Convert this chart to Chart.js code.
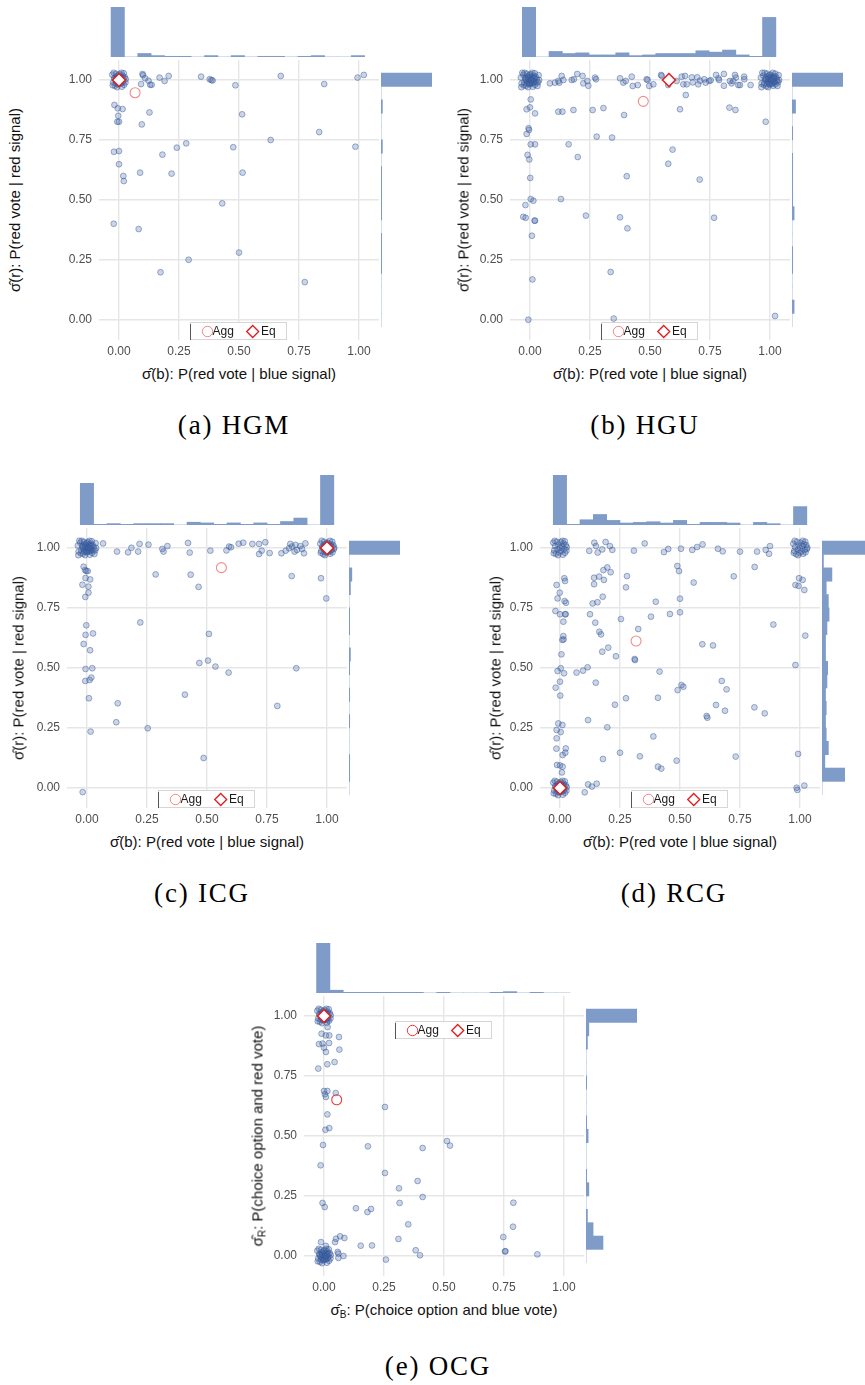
<!DOCTYPE html>
<html><head><meta charset="utf-8">
<script src="https://cdn.jsdelivr.net/npm/chart.js@4"></script>
<style>
html,body{margin:0;padding:0;background:#fff;}
#page{position:relative;width:865px;height:1385px;overflow:hidden;background:#fff;}
canvas{position:absolute;}
.xt{position:absolute;font:15px "Liberation Sans",Arial,sans-serif;color:#111;white-space:nowrap;transform:translate(-50%,-50%);}
.yt{position:absolute;font:15px "Liberation Sans",Arial,sans-serif;color:#111;white-space:nowrap;transform:translate(-50%,-50%) rotate(-90deg);}
.cap{position:absolute;font:27px "Liberation Serif","DejaVu Serif",serif;letter-spacing:1.8px;line-height:27px;color:#000;white-space:nowrap;transform:translate(-50%,0);}
sub{font-size:10px;vertical-align:-3px;line-height:0;}
</style></head>
<body><div id="page"></div>
<script>
// ---------- DATA ----------
const tickValues = [0, 0.25, 0.5, 0.75, 1];
const binWidth = 0.0556;

// dense clusters of overlapping points
const clusterHigh0 = [[-0.028,1.022],[-0.024,0.99],[-0.02,1.008],[-0.017,0.976],[-0.013,1.026],[-0.01,0.995],[-0.006,1.012],[-0.003,0.982],[0,1],[0.003,1.024],[0.006,0.988],[0.009,1.006],[0.012,0.972],[0.015,1.018],[0.018,0.996],[0.021,0.98],[0.024,1.012],[0.027,0.99],[-0.022,1.03],[0.01,1.03],[-0.008,0.97],[0.02,1.028],[-0.026,0.978],[0.028,1.004]];
const clusterHigh1 = [[0.972,1.018],[0.976,0.988],[0.98,1.004],[0.984,0.974],[0.988,1.026],[0.991,0.994],[0.995,1.01],[0.998,0.98],[1,1],[1.003,1.022],[1.006,0.986],[1.01,1.008],[1.013,0.976],[1.016,1.016],[1.02,0.992],[1.023,0.982],[1.026,1.012],[1.029,0.996],[0.978,1.03],[1.012,1.03],[0.992,0.97],[1.022,1.026],[0.974,0.98],[1.03,1.002]];
const clusterLow0 = [[-0.028,0.022],[-0.024,-0.01],[-0.02,0.008],[-0.017,-0.024],[-0.013,0.026],[-0.01,-0.005],[-0.006,0.012],[-0.003,-0.018],[0,0],[0.003,0.024],[0.006,-0.012],[0.009,0.006],[0.012,-0.028],[0.015,0.018],[0.018,-0.004],[0.021,-0.02],[0.024,0.012],[0.027,-0.01],[-0.022,0.03],[0.01,0.03],[-0.008,-0.03],[0.02,0.028],[-0.026,-0.022],[0.028,0.004]];
const clusterWide0 = [[-0.038,1.01],[-0.035,0.985],[0.034,0.99],[0.036,1.02],[-0.032,1.03],[0.031,0.975],[-0.036,0.97],[0.038,1.0]];
const clusterWide1 = [[0.962,1.01],[0.965,0.985],[1.034,0.99],[1.036,1.02],[0.968,1.03],[1.031,0.975],[0.964,0.97],[1.038,1.0]];
const coreHigh0 = [[-0.015,1.0],[-0.01,1.015],[-0.005,0.99],[0.0,1.01],[0.005,0.995],[0.01,1.012],[0.015,0.99],[-0.012,0.985],[0.008,0.985],[-0.002,1.02],[0.018,1.008],[-0.018,1.005],[0.0,0.985],[0.012,1.0],[-0.008,1.005],[0.004,1.0]];
const coreHigh1 = [[0.985,1.0],[0.99,1.015],[0.995,0.99],[1.0,1.01],[1.005,0.995],[1.01,1.012],[1.015,0.99],[0.988,0.985],[1.008,0.985],[0.998,1.02],[1.018,1.008],[0.982,1.005],[1.0,0.985],[1.012,1.0],[0.992,1.005],[1.004,1.0]];
const coreLow0 = [[-0.015,0.0],[-0.01,0.015],[-0.005,-0.01],[0.0,0.01],[0.005,-0.005],[0.01,0.012],[0.015,-0.01],[-0.012,-0.015],[0.008,-0.015],[-0.002,0.02],[0.018,0.008],[-0.018,0.005],[0.0,-0.015],[0.012,0.0],[-0.008,0.005],[0.004,0.0]];

// (a) HGM
const hgmPoints = [[0.098,1.025],[0.10,1.02],[0.109,1.007],[0.123,0.997],[0.13,0.98],[0.136,0.98],[0.092,0.983],[0.169,1.01],[0.19,0.996],[0.207,1.017],[0.342,1.014],[0.378,1.003],[0.385,1.0],[0.39,0.998],[0.485,0.978],[0.674,1.017],[0.855,0.983],[0.994,1.01],[1.02,1.021],[-0.019,0.896],[-0.005,0.882],[0.015,0.879],[-0.003,0.851],[-0.007,0.826],[0.0,0.826],[0.127,0.865],[0.095,0.815],[0.513,0.857],[0.834,0.783],[0.632,0.75],[0.28,0.736],[0.241,0.718],[0.476,0.72],[0.985,0.722],[-0.021,0.701],[0.0,0.704],[0.0,0.649],[0.181,0.689],[0.018,0.6],[0.02,0.579],[0.088,0.614],[0.219,0.61],[0.515,0.614],[0.43,0.486],[-0.022,0.401],[0.082,0.379],[0.5,0.281],[0.29,0.251],[0.173,0.199],[0.774,0.158]];
const hgmAgg = [[0.067,0.947]];
const hgmEq = [[0,1]];
const hgmTopHist = [71,0,5,2,1,1,0,2,0,2,0,1,1,0,1,2,0,0,2];
const hgmRightHist = [0,0,0,0,1,1,1,0,1,1,1,1,0,2,0,0,2,0,73];

// (b) HGU
const hguPoints = [[0.083,0.986],[0.104,0.989],[0.118,0.996],[0.122,0.989],[0.132,1.017],[0.139,1.0],[0.174,1.0],[0.183,1.003],[0.197,1.025],[0.219,1.017],[0.222,0.986],[0.239,0.996],[0.243,0.976],[0.271,1.01],[0.275,1.003],[0.375,1.007],[0.389,0.989],[0.399,0.996],[0.424,1.014],[0.428,0.975],[0.449,0.979],[0.486,1.003],[0.49,1.0],[0.497,0.975],[0.514,0.982],[0.546,1.021],[0.549,1.017],[0.576,0.979],[0.611,0.996],[0.632,1.014],[0.639,0.982],[0.646,1.017],[0.653,0.982],[0.674,1.011],[0.678,0.99],[0.697,1.011],[0.701,0.982],[0.708,0.997],[0.726,1.003],[0.732,0.989],[0.747,0.996],[0.753,0.999],[0.775,1.021],[0.785,1.007],[0.788,1.0],[0.808,1.025],[0.808,0.976],[0.833,0.996],[0.84,0.986],[0.847,0.996],[0.854,1.021],[0.858,1.01],[0.868,0.979],[0.875,0.979],[0.892,1.014],[0.893,1.003],[0.919,0.979],
 [0.003,0.919],[-0.014,0.878],[0.0,0.886],[0.021,0.861],[0.118,0.868],[0.135,0.868],[0.181,0.875],[0.261,0.875],[0.306,0.883],[0.392,0.854],[0.649,0.9375],[0.625,0.878],[0.831,0.885],[0.856,0.875],[0.982,0.826],[-0.006,0.799],[-0.004,0.792],[-0.014,0.775],[0.003,0.732],[0.021,0.732],[0.161,0.732],[0.278,0.764],[0.342,0.76],[-0.01,0.688],[-0.003,0.669],[0.199,0.679],[0.594,0.71],[0.576,0.651],[0.001,0.592],[0.403,0.599],[0.707,0.585],[0.003,0.504],[0.014,0.497],[0.129,0.504],[-0.019,0.479],[-0.028,0.43],[-0.018,0.426],[0.019,0.414],[0.021,0.414],[0.233,0.435],[0.375,0.428],[0.406,0.382],[0.767,0.426],[0.008,0.351],[0.336,0.2],[0.01,0.169],[-0.007,0.001],[0.349,0.006],[1.021,0.017]];
const hguAgg = [[0.472,0.911]];
const hguEq = [[0.579,1.0]];
const hguTopHist = [72,0,8,5,6,3,3,6,2,3,5,5,5,9,7,10,3,1,57];
const hguRightHist = [0,3,0,0,1,1,0,0,3,1,1,1,1,0,1,0,5,0,72];

// (c) ICG
const icgPoints = [[0.067,1.019],[0.125,0.985],[0.171,0.982],[0.185,1.001],[0.213,0.985],[0.219,1.017],[0.256,1.014],[0.314,0.996],[0.319,0.985],[0.335,1.008],[0.421,1.021],[0.428,0.981],[0.514,0.989],[0.581,0.99],[0.592,1.006],[0.6,1.003],[0.632,1.018],[0.651,1.022],[0.689,1.017],[0.717,1.017],[0.717,0.975],[0.728,0.989],[0.743,1.024],[0.761,0.979],[0.81,0.978],[0.828,0.989],[0.842,0.999],[0.847,1.017],[0.854,1.006],[0.865,0.985],[0.869,1.013],[0.875,0.992],[0.889,1.008],[0.896,0.996],[0.904,0.978],[0.91,1.019],
 [-0.014,0.922],[-0.008,0.908],[-0.003,0.904],[0.003,0.904],[-0.006,0.875],[0.013,0.869],[-0.019,0.847],[0.006,0.839],[0.006,0.814],[-0.007,0.796],[0.286,0.89],[0.432,0.889],[0.465,0.838],[0.853,0.883],[0.975,0.874],[0.997,0.79],[-0.003,0.678],[-0.006,0.638],[0.025,0.644],[-0.014,0.6],[0.013,0.574],[0.222,0.69],[0.508,0.642],[0.468,0.521],[0.504,0.531],[0.535,0.506],[0.872,0.499],[-0.006,0.496],[0.022,0.499],[0.011,0.45],[-0.007,0.446],[0.018,0.46],[0.008,0.374],[0.128,0.353],[0.122,0.274],[0.015,0.235],[0.253,0.249],[0.408,0.389],[0.486,0.125],[0.59,0.481],[0.793,0.342],[-0.018,-0.017]];
const icgAgg = [[0.56,0.918]];
const icgEq = [[1,1]];
const icgTopHist = [60,1,2,1,2,2,2,0,4,3,1,3,1,3,1,5,10,0,72];
const icgRightHist = [0,1,1,0,0,1,0,1,0,1,2,0,1,1,0,2,4,0,72];

// (d) RCG
const rcgPoints = [[0.122,0.988],[0.143,1.022],[0.15,1.008],[0.157,0.981],[0.176,0.994],[0.19,1.025],[0.208,1.008],[0.218,0.992],[0.308,0.989],[0.353,1.019],[0.433,0.983],[0.451,0.996],[0.504,0.997],[0.551,0.992],[0.571,1.004],[0.594,1.015],[0.658,0.997],[0.678,0.986],[0.75,0.985],[0.821,0.985],[0.857,0.992],[0.871,0.976],[0.875,1.008],
 [-0.014,0.846],[-0.001,0.814],[-0.01,0.79],[-0.019,0.7375],[0.0,0.724],[0.021,0.724],[0.024,0.724],[0.014,0.693],[0.018,0.874],[0.021,0.8625],[0.025,0.772],[0.019,0.779],[0.014,0.633],[0.01,0.617],[0.015,0.619],[0.006,0.557],[0.142,0.876],[0.163,0.881],[0.142,0.849],[0.181,0.908],[0.197,0.919],[0.211,0.899],[0.183,0.867],[0.136,0.769],[0.156,0.774],[0.178,0.797],[0.125,0.724],[0.147,0.689],[0.164,0.651],[0.171,0.64],[0.176,0.568],[0.201,0.585],[0.233,0.549],[0.254,0.704],[0.275,0.836],[0.279,0.883],[0.311,0.5375],[0.326,0.6625],[0.379,0.714],[0.399,0.776],[0.458,0.725],[0.489,0.925],[0.496,0.904],[0.5,0.789],[0.5,0.732],[0.557,0.856],[0.593,0.599],[0.6375,0.594],[0.724,0.882],[0.811,0.921],[0.889,0.681],[0.981,0.846],[0.994,0.842],[1.011,0.867],[0.996,0.874],[1.018,0.825],[1.022,0.635],[0.981,0.5125],
 [-0.01,0.4875],[0.003,0.499],[0.017,0.478],[0.069,0.481],[0.096,0.489],[0.115,0.503],[-0.018,0.418],[0.0,0.443],[0.001,0.385],[0.149,0.439],[0.3125,0.533],[0.415,0.485],[-0.007,0.269],[0.01,0.2625],[-0.014,0.242],[0.003,0.233],[-0.014,0.207],[-0.015,0.164],[0.024,0.165],[0.022,0.147],[0.011,0.1375],[-0.0125,0.096],[0.0,0.094],[0.011,0.089],[0.008,0.065],[0.117,0.283],[0.197,0.253],[0.229,0.347],[0.275,0.374],[0.179,0.121],[0.25,0.147],[0.333,0.132],[0.389,0.215],[0.408,0.376],[0.408,0.089],[0.422,0.081],[0.486,0.114],[0.49,0.408],[0.506,0.429],[0.514,0.422],[0.611,0.3],[0.614,0.293],[0.65,0.346],[0.674,0.446],[0.694,0.411],[0.6875,0.322],[0.732,0.131],[0.81,0.336],[0.853,0.311],[0.992,0.142],[0.986,0.001],[0.989,-0.008],[1.018,0.01],[0.103,-0.018],[0.117,0.015],[0.133,0.006],[0.153,0.018]];
const rcgAgg = [[0.317,0.6125]];
const rcgEq = [[0,0]];
const rcgTopHist = [76,1,8,16,7,3,4,5,3,7,1,4,4,3,0,4,2,0,28];
const rcgRightHist = [0,32,4,9,6,5,6,5,7,8,5,5,7,10,9,6,14,2,72];

// (e) OCG
const ocgPoints = [[0.014,0.982],[0.015,0.954],[-0.01,0.926],[0.008,0.919],[0.022,0.919],[0.0625,0.9125],[-0.021,0.883],[-0.006,0.885],[0.021,0.8875],[0.0,0.868],[0.008,0.85],[0.064,0.86],[0.014,0.799],[0.044,0.808],[-0.024,0.781],[0.0,0.6875],[0.014,0.6875],[0.004,0.674],[0.008,0.6625],[0.049,0.679],[0.254,0.621],[0.014,0.59],[0.006,0.526],[0.022,0.533],[-0.004,0.4625],[-0.014,0.378],[-0.006,0.221],[0.003,0.204],[0.183,0.457],[0.254,0.346],[0.39,0.3125],[0.3125,0.282],[0.315,0.221],[0.411,0.45],[0.411,0.246],[0.5125,0.479],[0.525,0.46],[0.133,0.199],[0.181,0.183],[0.196,0.196],[0.351,0.132],[0.789,0.222],[0.7875,0.122],[0.747,0.079],[0.754,0.019],[0.756,0.02],[0.889,0.007],[0.31,0.071],[0.382,0.024],[0.4,0.003],[0.258,-0.015],[0.153,0.043],[0.2,0.044],[-0.0125,0.058],[0.046,0.058],[0.05,0.072],[0.067,0.082],[0.085,0.075],[0.008,0.042],[0.057,0.017],[0.06,0.01],[0.081,0.0],[0.06,-0.008]];
const ocgAgg = [[0.053,0.651]];
const ocgEq = [[0,1]];
const ocgTopHist = [72,4,1,1,1,1,1,1,0,1,0,0,0,1,2,0,1,0,0];
const ocgRightHist = [0,24,10,2,0,4,1,0,0,3,1,0,0,1,0,0,2,4,72];

const legendLabels = ['Agg', 'Eq'];

// ---------- LAYOUT / STYLE ----------
const AX_MIN = -0.0833, AX_MAX = 1.0833, AREA = 280, YAXW = 45, XAXH = 24;
const histColor = '#7f9cc8';
const ptFill = 'rgba(70,105,165,0.28)', ptBorder = 'rgba(50,85,150,0.45)';
const titleB = 'σ̂(b): P(red vote | blue signal)';
const titleR = 'σ̂(r): P(red vote | red signal)';

const panels = [
  {pts: hgmPoints.concat(clusterHigh0, coreHigh0), agg: hgmAgg, eq: hgmEq, topH: hgmTopHist, rightH: hgmRightHist, topStart: -0.033, rightStart: -0.028,
   left: 99, top: 60, yTitleX: 14, capX: 234, capBase: 434, legTop: 262, aggColor: 'rgba(228,26,28,0.5)', xTitle: titleB, yTitle: titleR, caption: '(a) HGM'},
  {pts: hguPoints.concat(clusterHigh0, clusterWide0, coreHigh0, clusterHigh1, clusterWide1, coreHigh1), agg: hguAgg, eq: hguEq, topH: hguTopHist, rightH: hguRightHist, topStart: -0.032, rightStart: -0.028,
   left: 510, top: 60, yTitleX: 463, capX: 645, capBase: 434, legTop: 262, aggColor: 'rgba(228,26,28,0.5)', xTitle: titleB, yTitle: titleR, caption: '(b) HGU'},
  {pts: icgPoints.concat(clusterHigh0, clusterWide0, coreHigh0, clusterHigh1, coreHigh1), agg: icgAgg, eq: icgEq, topH: icgTopHist, rightH: icgRightHist, topStart: -0.028, rightStart: -0.028,
   left: 67, top: 528, yTitleX: 18, capX: 202, capBase: 902, legTop: 262, aggColor: 'rgba(228,26,28,0.5)', xTitle: titleB, yTitle: titleR, caption: '(c) ICG'},
  {pts: rcgPoints.concat(clusterHigh0, clusterHigh1, clusterLow0, coreLow0), agg: rcgAgg, eq: rcgEq, topH: rcgTopHist, rightH: rcgRightHist, topStart: -0.028, rightStart: -0.028,
   left: 540, top: 528, yTitleX: 495, capX: 674, capBase: 902, legTop: 262, aggColor: 'rgba(228,26,28,0.5)', xTitle: titleB, yTitle: titleR, caption: '(d) RCG'},
  {pts: ocgPoints.concat(clusterHigh0, coreHigh0, clusterLow0, coreLow0), agg: ocgAgg, eq: ocgEq, topH: ocgTopHist, rightH: ocgRightHist, topStart: -0.031, rightStart: -0.028,
   left: 304, top: 996, yTitleX: 257, capX: 438, capBase: 1375, legTop: 25, aggColor: 'rgba(228,26,28,0.85)',
   xTitle: 'σ̂<sub>B</sub>: P(choice option and blue vote)', yTitle: 'σ̂<sub>R</sub>: P(choice option and red vote)', caption: '(e) OCG'}
];

const page = document.getElementById('page');
function mkCanvas(x, y, w, h) {
  const c = document.createElement('canvas');
  c.width = w; c.height = h;
  c.style.left = x + 'px'; c.style.top = y + 'px';
  c.style.width = w + 'px'; c.style.height = h + 'px';
  page.appendChild(c);
  return c;
}
function mkDiv(cls, html, x, y) {
  const d = document.createElement('div');
  d.className = cls; d.innerHTML = html;
  d.style.left = x + 'px'; d.style.top = y + 'px';
  page.appendChild(d);
  return d;
}
const toXY = arr => arr.map(p => ({x: p[0], y: p[1]}));

function legendPlugin(p) {
  return {
    id: 'boxLegend',
    afterDatasetsDraw(chart) {
      const ctx = chart.ctx, a = chart.chartArea;
      const L = a.left + 91, T = a.top + p.legTop, W = 97, H = 18;
      ctx.save();
      ctx.beginPath(); ctx.rect(a.left, a.top, a.right - a.left, a.bottom - a.top); ctx.clip();
      ctx.fillStyle = '#fff'; ctx.fillRect(L, T, W, H);
      ctx.strokeStyle = '#d6d6d6'; ctx.lineWidth = 1; ctx.strokeRect(L + 0.5, T + 0.5, W - 1, H - 1);
      ctx.strokeStyle = '#555'; ctx.beginPath(); ctx.moveTo(L + 0.5, T + 2); ctx.lineTo(L + 0.5, T + H); ctx.stroke();
      const cy = T + 9.5;
      ctx.strokeStyle = p.aggColor; ctx.lineWidth = 1;
      ctx.beginPath(); ctx.arc(L + 17.5, cy, 5.2, 0, Math.PI * 2); ctx.stroke();
      const dx = L + 62.7, r = 6;
      ctx.beginPath(); ctx.moveTo(dx, cy - r); ctx.lineTo(dx + r, cy); ctx.lineTo(dx, cy + r); ctx.lineTo(dx - r, cy); ctx.closePath();
      ctx.fillStyle = '#fff'; ctx.fill(); ctx.strokeStyle = '#e41a1c'; ctx.lineWidth = 1.3; ctx.stroke();
      ctx.fillStyle = '#1a1a1a'; ctx.font = '12px "Liberation Sans", Arial, sans-serif'; ctx.textBaseline = 'middle'; ctx.textAlign = 'left';
      ctx.fillText(chart.data.datasets[1].label, L + 22.5, cy + 0.5);
      ctx.fillText(chart.data.datasets[0].label, L + 71, cy + 0.5);
      ctx.restore();
    }
  };
}

function axisOpts(isX) {
  return {
    type: 'linear', min: AX_MIN, max: AX_MAX,
    afterBuildTicks: s => { s.ticks = tickValues.map(v => ({value: v})); },
    afterFit: s => {
      if (isX) s.height = XAXH; else s.width = YAXW;
      s.paddingTop = 0; s.paddingBottom = 0; s.paddingLeft = 0; s.paddingRight = 0;
    },
    grid: {color: '#e6e6e6', lineWidth: 1.4, drawTicks: false},
    border: {display: false},
    ticks: {padding: isX ? 4 : 7, color: '#4d4d4d', font: {family: '"Liberation Sans", Arial, sans-serif', size: 12},
            autoSkip: false, maxRotation: 0, minRotation: 0, callback: v => Number(v).toFixed(2)}
  };
}

panels.forEach(p => {
  // scatter
  const sc = mkCanvas(p.left - YAXW, p.top, AREA + YAXW, AREA + XAXH);
  new Chart(sc, {
    type: 'scatter',
    data: {datasets: [
      {label: legendLabels[1], data: toXY(p.eq), pointStyle: 'rectRot', pointRadius: 6.5, backgroundColor: '#ffffff', borderColor: '#e41a1c', borderWidth: 1.5},
      {label: legendLabels[0], data: toXY(p.agg), pointStyle: 'circle', pointRadius: 5, backgroundColor: 'rgba(0,0,0,0)', borderColor: p.aggColor, borderWidth: 1.1},
      {label: 'obs', data: toXY(p.pts), pointStyle: 'circle', pointRadius: 2.9, backgroundColor: ptFill, borderColor: ptBorder, borderWidth: 1}
    ]},
    options: {
      responsive: false, animation: false, devicePixelRatio: 1,
      layout: {padding: 0, autoPadding: false},
      plugins: {legend: {display: false}, tooltip: {enabled: false}},
      events: [],
      scales: {x: axisOpts(true), y: axisOpts(false)}
    },
    plugins: [legendPlugin(p)]
  });

  // top histogram
  const th = mkCanvas(p.left, p.top - 53, AREA, 50);
  new Chart(th, {
    type: 'bar',
    data: {datasets: [{data: p.topH.map((c, k) => ({x: p.topStart + (k + 0.5) * binWidth, y: c})),
      backgroundColor: histColor, borderWidth: 0, barPercentage: 1, categoryPercentage: 1}]},
    options: {
      responsive: false, animation: false, devicePixelRatio: 1, events: [],
      layout: {padding: 0, autoPadding: false},
      plugins: {legend: {display: false}, tooltip: {enabled: false}},
      scales: {x: {type: 'linear', offset: false, min: AX_MIN, max: AX_MAX, display: false},
               y: {type: 'linear', min: 0, max: Math.max(...p.topH), display: false}}
    }
  });

  // right histogram
  const rh = mkCanvas(p.left + AREA + 2, p.top, 51, AREA);
  new Chart(rh, {
    type: 'bar',
    data: {datasets: [{data: p.rightH.map((c, k) => ({y: p.rightStart + (k + 0.5) * binWidth, x: c})),
      backgroundColor: histColor, borderWidth: 0, barPercentage: 1, categoryPercentage: 1}]},
    options: {
      indexAxis: 'y',
      responsive: false, animation: false, devicePixelRatio: 1, events: [],
      layout: {padding: 0, autoPadding: false},
      plugins: {legend: {display: false}, tooltip: {enabled: false}},
      scales: {y: {type: 'linear', offset: false, min: AX_MIN, max: AX_MAX, display: false},
               x: {type: 'linear', min: 0, max: Math.max(...p.rightH), display: false}}
    }
  });

  // titles and caption
  mkDiv('xt', p.xTitle, p.left + AREA / 2, p.top + AREA + 33);
  mkDiv('yt', p.yTitle, p.yTitleX, p.top + AREA / 2);
  mkDiv('cap', p.caption, p.capX, p.capBase - 22);
});
</script>
</body></html>
